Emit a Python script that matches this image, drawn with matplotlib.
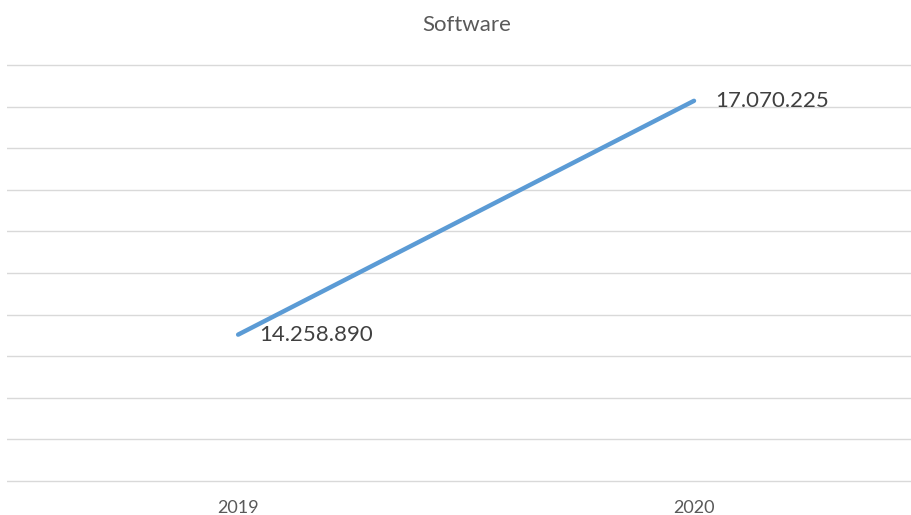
import matplotlib
matplotlib.use("Agg")
import matplotlib.pyplot as plt
from matplotlib.ticker import MultipleLocator

years = ["2019", "2020"]
values = [14258890, 17070225]
labels = ["14.258.890", "17.070.225"]

plt.rcParams['font.family'] = ['Lato', 'DejaVu Sans']

fig = plt.figure(figsize=(9.11, 5.15), dpi=100)
ax = fig.add_axes([7 / 911, 32 / 515, 904 / 911, 420 / 515])

xs = list(range(len(years)))
ax.plot(xs, values, color="#5B9BD5", linewidth=3.2, solid_capstyle="round", zorder=3)

for x, v, lab in zip(xs, values, labels):
    ax.annotate(lab, (x, v), xytext=(15, 0), textcoords="offset points",
                ha="left", va="center", fontsize=16, color="#404040", zorder=4)

ax.set_xlim(-0.507, 1.476)
ax.set_ylim(12475000, 17525000)
ax.yaxis.set_major_locator(MultipleLocator(500000))
ax.grid(axis="y", color="#D9D9D9", linewidth=1)
ax.set_axisbelow(True)
ax.set_yticklabels([])
ax.tick_params(axis="y", length=0)
ax.set_xticks(xs)
ax.set_xticklabels(years, fontsize=13, color="#595959")
ax.tick_params(axis="x", length=0, pad=12)
for s in ax.spines.values():
    s.set_visible(False)

fig.text(467 / 911, 1 - 25 / 515, "Software", ha="center", va="center",
         fontsize=16, color="#595959")

fig.savefig("out.png", dpi=100)
